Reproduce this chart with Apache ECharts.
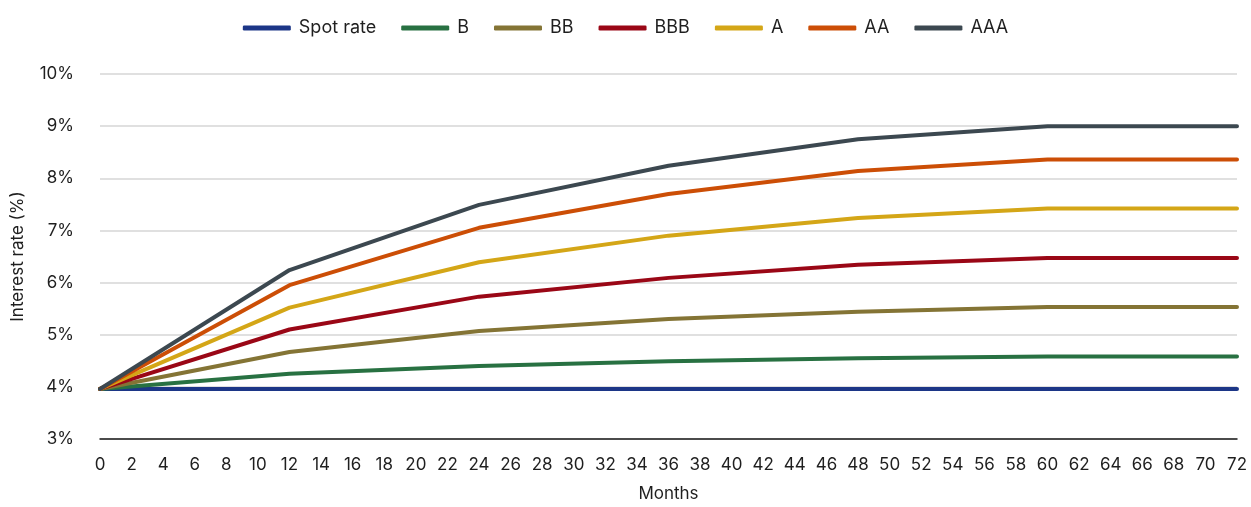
<!DOCTYPE html>
<html>
<head>
<meta charset="utf-8">
<style>
  html, body { margin: 0; padding: 0; background: #ffffff; overflow: hidden; }
  #chart { width: 1251px; height: 507px; }
</style>
<script src="https://cdn.jsdelivr.net/npm/echarts@6/dist/echarts.min.js"></script>
</head>
<body>
<div id="chart"></div>
<script>
// Tenor points (months) at which each curve is defined
const months = [0, 12, 24, 36, 48, 60, 72];

// Interest rates (%) by rating
const spotRate = [3.96, 3.96, 3.96, 3.96, 3.96, 3.96, 3.96];
const rateB    = [3.96, 4.25, 4.40, 4.49, 4.55, 4.58, 4.58];
const rateBB   = [3.96, 4.67, 5.07, 5.30, 5.44, 5.53, 5.53];
const rateBBB  = [3.96, 5.10, 5.73, 6.09, 6.34, 6.47, 6.47];
const rateA    = [3.96, 5.52, 6.39, 6.90, 7.24, 7.42, 7.42];
const rateAA   = [3.96, 5.95, 7.05, 7.70, 8.14, 8.36, 8.36];
const rateAAA  = [3.96, 6.24, 7.49, 8.24, 8.75, 9.00, 9.00];

const seriesNames = ['Spot rate', 'B', 'BB', 'BBB', 'A', 'AA', 'AAA'];
const seriesValues = [spotRate, rateB, rateBB, rateBBB, rateA, rateAA, rateAAA];
const seriesColors = ['#1c3687', '#287142', '#847435', '#9a0716', '#d4a617', '#cc4e06', '#3c4850'];

const FONT = 'Inter, "Noto Sans", sans-serif';
const TEXT = '#1f1f1f';

const chart = echarts.init(document.getElementById('chart'), null, { renderer: 'canvas', width: 1251, height: 507 });

chart.setOption({
  animation: false,
  textStyle: { fontFamily: FONT },
  legend: {
    top: 14,
    left: 'center',
    icon: 'roundRect',
    itemWidth: 48,
    itemHeight: 5,
    itemGap: 25,
    textStyle: { fontSize: 18, color: TEXT, fontFamily: FONT, padding: [0, 0, 0, 3] },
    data: seriesNames
  },
  grid: { left: 100, width: 1137, top: 74, height: 371, containLabel: false },
  xAxis: {
    type: 'value',
    min: 0,
    max: 72,
    interval: 2,
    name: 'Months',
    nameLocation: 'middle',
    nameGap: 46,
    nameTextStyle: { fontSize: 17, color: TEXT, fontFamily: FONT },
    axisLine: { show: true, lineStyle: { color: '#1a1a1a', width: 1.5 } },
    axisTick: { show: false },
    splitLine: { show: false },
    axisLabel: { fontSize: 17, color: TEXT, margin: 17, fontFamily: FONT }
  },
  yAxis: {
    type: 'value',
    min: 3,
    max: 10,
    interval: 1,
    name: 'Interest rate (%)',
    nameLocation: 'middle',
    nameGap: 74,
    nameRotate: 90,
    nameTextStyle: { fontSize: 17, color: TEXT, fontFamily: FONT },
    axisLine: { show: false },
    axisTick: { show: false },
    splitLine: { show: true, lineStyle: { color: '#d6d6d6', width: 1.5 } },
    axisLabel: { formatter: '{value}%', fontSize: 17, color: TEXT, margin: 26, fontFamily: FONT }
  },
  series: seriesNames.map((name, i) => ({
    name: name,
    type: 'line',
    data: months.map((m, j) => [m, seriesValues[i][j]]),
    showSymbol: false,
    symbol: 'none',
    color: seriesColors[i],
    lineStyle: { width: 4, color: seriesColors[i], cap: 'round', join: 'round' },
    z: 2 + i
  }))
});
</script>
</body>
</html>
